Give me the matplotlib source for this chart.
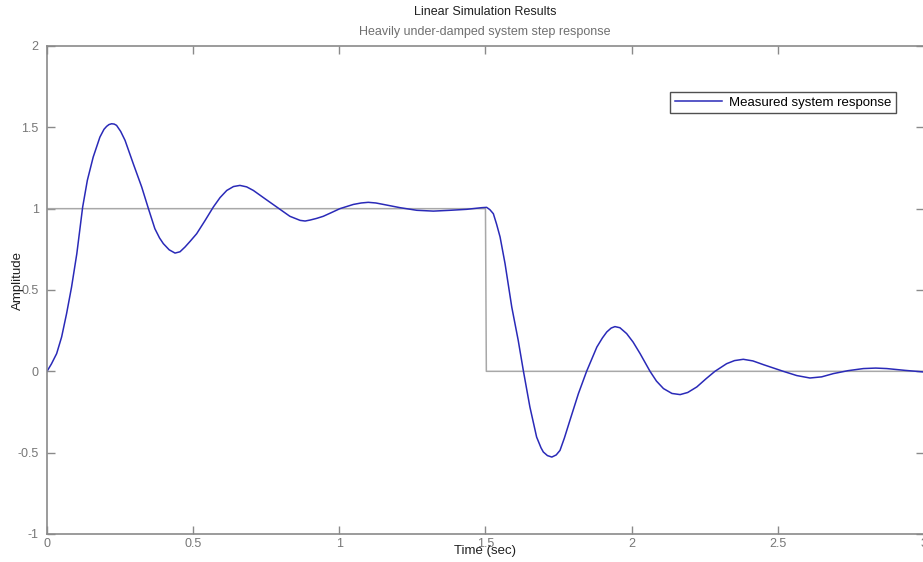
import numpy as np
import matplotlib.pyplot as plt

plt.rcParams['font.family'] = ['Liberation Sans', 'DejaVu Sans']

# values
time_s = [0.0, 0.015, 0.033, 0.050, 0.067, 0.084, 0.102, 0.122, 0.138, 0.158,
          0.181, 0.195, 0.204, 0.212, 0.221, 0.230, 0.238, 0.252, 0.267, 0.295,
          0.324, 0.347, 0.369, 0.385, 0.398, 0.418, 0.438, 0.455, 0.472, 0.490,
          0.512, 0.540, 0.569, 0.592, 0.615, 0.638, 0.660, 0.683, 0.706, 0.745,
          0.786, 0.831, 0.866, 0.883, 0.900, 0.922, 0.945, 0.972, 1.002, 1.048,
          1.075, 1.099, 1.125, 1.151, 1.208, 1.265, 1.322, 1.379, 1.436, 1.487,
          1.504, 1.515, 1.527, 1.538, 1.550, 1.567, 1.590, 1.612, 1.630, 1.652,
          1.675, 1.690, 1.698, 1.712, 1.727, 1.742, 1.755, 1.770, 1.789, 1.818,
          1.846, 1.881, 1.900, 1.915, 1.930, 1.943, 1.960, 1.983, 2.005, 2.029,
          2.063, 2.085, 2.109, 2.138, 2.166, 2.192, 2.223, 2.255, 2.285, 2.325,
          2.352, 2.382, 2.415, 2.451, 2.519, 2.565, 2.610, 2.650, 2.690, 2.740,
          2.793, 2.835, 2.873, 2.935, 3.0]
response = [0.0, 0.045, 0.109, 0.211, 0.355, 0.518, 0.723, 1.010, 1.174, 1.317,
            1.440, 1.488, 1.506, 1.517, 1.522, 1.520, 1.512, 1.475, 1.420, 1.277,
            1.133, 1.0, 0.877, 0.820, 0.785, 0.747, 0.727, 0.735, 0.764, 0.800,
            0.846, 0.925, 1.010, 1.068, 1.112, 1.136, 1.143, 1.134, 1.112, 1.062,
            1.010, 0.953, 0.928, 0.924, 0.930, 0.940, 0.953, 0.975, 1.0, 1.026,
            1.035, 1.039, 1.035, 1.026, 1.006, 0.990, 0.985, 0.990, 0.996, 1.006,
            1.008, 0.994, 0.969, 0.905, 0.826, 0.662, 0.395, 0.191, 0.0, -0.219,
            -0.404, -0.470, -0.496, -0.518, -0.527, -0.514, -0.486, -0.410, -0.301, -0.137,
            0.0, 0.149, 0.205, 0.242, 0.266, 0.275, 0.268, 0.232, 0.180, 0.109,
            0.0, -0.060, -0.106, -0.136, -0.143, -0.130, -0.096, -0.045, 0.0, 0.047,
            0.066, 0.074, 0.064, 0.041, 0.0, -0.026, -0.041, -0.034, -0.014, 0.004,
            0.017, 0.020, 0.017, 0.006, -0.004]

input_t = [0.0, 1.5, 1.503, 3.0]
input_u = [1.0, 1.0, 0.0, 0.0]

xticks = [0, 0.5, 1, 1.5, 2, 2.5, 3]
xticklabels = ['0', '0.5', '1', '1.5', '2', '2.5', '3']
yticks = [-1, -0.5, 0, 0.5, 1, 1.5, 2]
yticklabels = ['-1', '-0.5', '0', '0.5', '1', '1.5', '2']

W, H = 923, 562
fig = plt.figure(figsize=(W / 100, H / 100), dpi=100)
ax = fig.add_axes([47 / W, 28 / H, (W - 47) / W + 0.001, 488 / H])

gray = '#8a8a8a'
ax.plot(input_t, input_u, color='#a8a8a8', lw=1.1)
ax.plot(time_s, response, color='#2a2ab8', lw=1.1, label='Measured system response')

ax.set_xlim(0, 3)
ax.set_ylim(-1, 2)
ax.set_xticks(xticks)
ax.set_xticklabels(xticklabels)
ax.set_yticks(yticks)
ax.set_yticklabels(yticklabels)
ax.tick_params(direction='in', length=5.8, width=1, colors=gray,
               labelcolor='#777777', labelsize=9, top=True, right=True)
ax.tick_params(axis='x', pad=3)
ax.tick_params(axis='y', pad=6)
for s in ax.spines.values():
    s.set_color(gray)
    s.set_linewidth(1.2)

leg = ax.legend(loc='upper right', bbox_to_anchor=(896 / W, 1 - 92 / H),
                bbox_transform=fig.transFigure, borderaxespad=0,
                fancybox=False, framealpha=1, edgecolor='#505050',
                fontsize=9.5, handlelength=3.6, handletextpad=0.5,
                borderpad=0.35)
leg.get_frame().set_linewidth(1.0)

fig.text(485 / W, 1 - 12 / H, 'Linear Simulation Results', ha='center', va='center',
         fontsize=9, color='#202020')
fig.text(485 / W, 1 - 32 / H, 'Heavily under-damped system step response', ha='center',
         va='center', fontsize=9, color='#707070')
fig.text(485 / W, 1 - 551 / H, 'Time (sec)', ha='center', va='center',
         fontsize=9.5, color='#202020')
fig.text(18 / W, 1 - 280 / H, 'Amplitude', ha='center', va='center', rotation=90,
         fontsize=9.5, color='#202020')

fig.savefig('out.png', dpi=100)
